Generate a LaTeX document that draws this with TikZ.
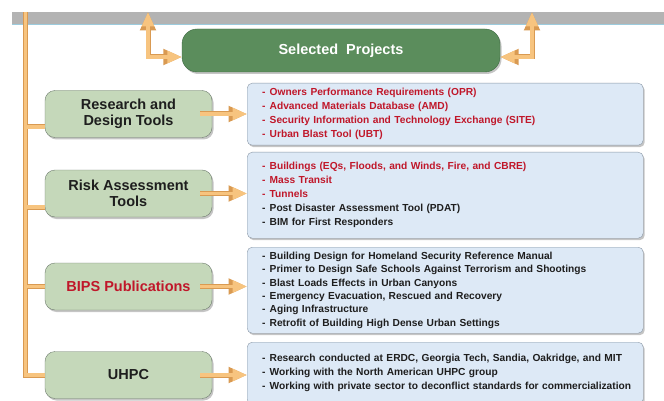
\documentclass[tikz,border=0pt]{standalone}
\usepackage{fontspec}
\setmainfont{Liberation Sans}
\usetikzlibrary{arrows.meta,shadows}

\definecolor{bandgray}{HTML}{B3B3B3}
\definecolor{bandline}{HTML}{9CCBDD}
\definecolor{selgreen}{HTML}{5B8D5C}
\definecolor{seledge}{HTML}{3E6A42}
\definecolor{palegreen}{HTML}{C5D8BA}
\definecolor{paleedge}{HTML}{6E7C6E}
\definecolor{paleblue}{HTML}{DDE9F6}
\definecolor{blueedge}{HTML}{8A97A6}
\definecolor{orgfill}{HTML}{F7C47F}
\definecolor{orgedge}{HTML}{D99A52}
\definecolor{listred}{HTML}{C0172A}
\definecolor{listblack}{HTML}{1E1E1E}

\newcommand{\itm}[1]{\mbox{\makebox[7.5pt][l]{-}#1}}

\begin{document}
\begin{tikzpicture}[x=1pt,y=-1pt,font=\bfseries,>={Triangle[length=6pt 2.5,width=5pt 2]}]
  \tikzstyle{selbox}=[draw=seledge, fill=selgreen, rounded corners=15pt, minimum width=318pt, minimum height=43pt, text=white, font=\bfseries\fontsize{14.5}{16}\selectfont, drop shadow={shadow xshift=1.5pt, shadow yshift=-2pt, opacity=0.45}]
  \tikzstyle{topic}=[draw=paleedge, fill=palegreen, rounded corners=10pt, minimum width=167pt, minimum height=47pt, align=center, text=listblack, font=\bfseries\fontsize{14.5}{15.5}\selectfont, drop shadow={shadow xshift=1.5pt, shadow yshift=-2pt, opacity=0.45}]
  \tikzstyle{list}=[draw=blueedge, fill=paleblue, rounded corners=5pt, anchor=north west, minimum width=396pt, text width=366pt, inner xsep=15pt, align=left, text=listblack, font=\bfseries\fontsize{10.2}{14}\selectfont, drop shadow={shadow xshift=1.5pt, shadow yshift=-2pt, opacity=0.45}]
  \tikzstyle{fat}=[draw=orgfill, line width=3.4pt, preaction={draw=orgedge, line width=5pt}]

  \useasboundingbox (0,0) rectangle (664,401);
  \fill[white] (0,0) rectangle (664,401);
  \fill[bandgray] (12,12) rectangle (664,24);
  \draw[bandline, line width=1.2pt] (12,24.6) -- (664,24.6);

  \node[selbox] (sel) at (341,50.5) {Selected\ \ Projects};

  \node[topic] (rd) at (128.5,114) {Research and\\Design Tools};
  \node[topic] (ra) at (128.5,193.5) {Risk Assessment\\Tools};
  \node[topic, text=listred] (bips) at (128.5,286.5) {BIPS Publications};
  \node[topic] (uhpc) at (128.5,375) {UHPC};

  \node[list, minimum height=62pt, text=listred] (rdList) at (247,83) {%
    \itm{Owners Performance Requirements (OPR)}\\
    \itm{Advanced Materials Database (AMD)}\\
    \itm{Security Information and Technology Exchange (SITE)}\\
    \itm{Urban Blast Tool (UBT)}};
  \node[list, minimum height=86pt] (raList) at (247,152) {%
    \textcolor{listred}{\itm{Buildings (EQs, Floods, and Winds, Fire, and CBRE)}}\\
    \textcolor{listred}{\itm{Mass Transit}}\\
    \textcolor{listred}{\itm{Tunnels}}\\
    \itm{Post Disaster Assessment Tool (PDAT)}\\
    \itm{BIM for First Responders}};
  \node[list, minimum height=86pt, font=\bfseries\fontsize{10.2}{13.3}\selectfont] (bipsList) at (247,247) {%
    \itm{Building Design for Homeland Security Reference Manual}\\
    \itm{Primer to Design Safe Schools Against Terrorism and Shootings}\\
    \itm{Blast Loads Effects in Urban Canyons}\\
    \itm{Emergency Evacuation, Rescued and Recovery}\\
    \itm{Aging Infrastructure}\\
    \itm{Retrofit of Building High Dense Urban Settings}};
  \node[list, minimum height=62pt] (uhpcList) at (247,342) {%
    \itm{Research conducted at ERDC, Georgia Tech, Sandia, Oakridge, and MIT}\\
    \itm{Working with the North American UHPC group}\\
    \itm{Working with private sector to deconflict standards for commercialization}};

  % trunk on the left with its branches
  \coordinate (trunkTop) at (25.5,12);
  \coordinate (rdIn) at ([yshift=-13pt]rd.west);
  \coordinate (raIn) at ([yshift=-13.5pt]ra.west);
  \draw[fat] (trunkTop) |- (uhpc.west)
    (trunkTop |- rdIn) -- (rdIn)
    (trunkTop |- raIn) -- (raIn)
    (trunkTop |- bips.west) -- (bips.west);

  % arrows out of the title box
  \coordinate (leftUp) at (148,12);
  \coordinate (rightUp) at (532,12);
  \draw[fat,<->] (leftUp) |- ([yshift=-6.5pt]sel.west);
  \draw[fat,<->] (rightUp) |- ([yshift=-6.5pt]sel.east);

  \draw[fat,->] ([xshift=-12pt]rd.east) -- (rd.east -| rdList.west);
  \draw[fat,->] ([xshift=-12pt]ra.east) -- (ra.east -| raList.west);
  \draw[fat,->] ([xshift=-12pt]bips.east) -- (bips.east -| bipsList.west);
  \draw[fat,->] ([xshift=-12pt]uhpc.east) -- (uhpc.east -| uhpcList.west);

\end{tikzpicture}
\end{document}
